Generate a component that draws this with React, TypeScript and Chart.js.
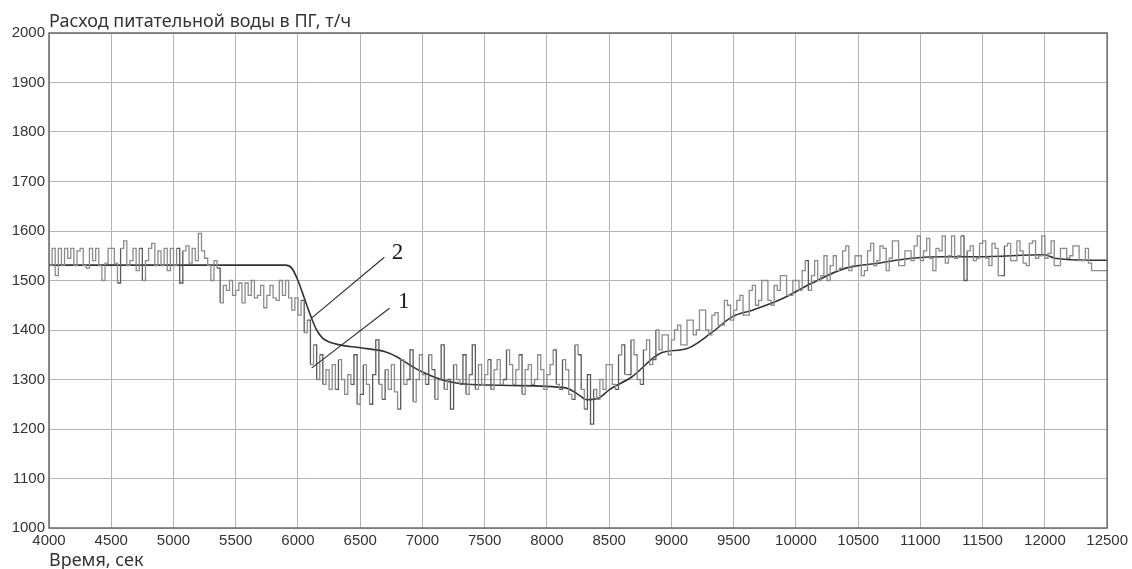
import React, { useEffect, useRef } from "react";
import { Chart, registerables } from "chart.js";

Chart.register(...registerables);

const TITLE_Y = "Расход питательной воды в ПГ, т/ч";
const TITLE_X = "Время, сек";

const X_MIN = 4000;
const X_MAX = 12500;
const X_STEP = 500;
const Y_MIN = 1000;
const Y_MAX = 2000;
const Y_STEP = 100;

// Curve 1: measured (noisy, stepped) feedwater flow, one value every 25 s from 4000 s
const MEASURED_START = 4000;
const MEASURED_DT = 25;
const measured: number[] = [
  1530, 1565, 1510, 1565, 1530, 1565, 1545, 1565, 1530, 1560, 1565, 1530, 1525, 1565, 1540, 1565, 1530, 1500, 1535, 1565,
  1565, 1535, 1495, 1565, 1580, 1530, 1540, 1565, 1520, 1565, 1500, 1540, 1565, 1575, 1530, 1560, 1530, 1565, 1520, 1565,
  1530, 1565, 1495, 1560, 1570, 1535, 1565, 1540, 1595, 1560, 1545, 1530, 1500, 1540, 1525, 1455, 1490, 1480, 1500, 1470,
  1480, 1495, 1455, 1495, 1470, 1500, 1465, 1470, 1490, 1445, 1470, 1490, 1465, 1460, 1500, 1470, 1500, 1465, 1440, 1465,
  1430, 1460, 1395, 1420, 1330, 1370, 1300, 1350, 1290, 1320, 1280, 1330, 1280, 1340, 1300, 1270, 1310, 1290, 1350, 1250,
  1270, 1330, 1290, 1250, 1310, 1380, 1290, 1260, 1320, 1280, 1330, 1275, 1240, 1340, 1290, 1300, 1360, 1255, 1300, 1350,
  1310, 1290, 1350, 1320, 1260, 1300, 1370, 1280, 1300, 1240, 1330, 1300, 1290, 1350, 1270, 1310, 1370, 1280, 1330, 1290,
  1310, 1340, 1280, 1320, 1340, 1290, 1300, 1360, 1330, 1290, 1320, 1350, 1270, 1320, 1330, 1290, 1300, 1350, 1320, 1280,
  1310, 1330, 1360, 1290, 1280, 1340, 1320, 1270, 1260, 1370, 1350, 1280, 1240, 1310, 1210, 1280, 1260, 1300, 1280, 1330,
  1330, 1290, 1280, 1350, 1370, 1310, 1310, 1380, 1350, 1300, 1290, 1360, 1380, 1330, 1340, 1400, 1360, 1390, 1390, 1350,
  1380, 1400, 1410, 1370, 1370, 1420, 1420, 1390, 1400, 1440, 1440, 1400, 1390, 1430, 1435, 1410, 1410, 1460, 1450, 1420,
  1440, 1460, 1470, 1430, 1430, 1480, 1490, 1450, 1460, 1500, 1500, 1460, 1450, 1490, 1480, 1510, 1510, 1470, 1470, 1500,
  1500, 1480, 1520, 1540, 1480, 1510, 1540, 1500, 1510, 1550, 1500, 1530, 1550, 1520, 1525, 1560, 1570, 1520, 1530, 1550,
  1550, 1510, 1520, 1560, 1575, 1530, 1540, 1570, 1565, 1520, 1545, 1580, 1580, 1530, 1530, 1560, 1560, 1540, 1570, 1590,
  1540, 1560, 1585, 1545, 1520, 1565, 1560, 1590, 1535, 1550, 1590, 1545, 1550, 1590, 1500, 1560, 1570, 1540, 1545, 1575,
  1580, 1545, 1530, 1575, 1565, 1510, 1510, 1570, 1575, 1540, 1540, 1580, 1560, 1535, 1530, 1575, 1580, 1545, 1550, 1590,
  1545, 1555, 1580, 1530, 1530, 1565, 1565, 1545, 1550, 1570, 1570, 1540, 1540, 1565, 1535, 1520, 1520, 1520, 1520, 1520,
  1520,
];

// Curve 2: smooth (model) flow
const smoothTimes: number[] = [
  4000, 5900, 5950, 6000, 6050, 6100, 6150, 6200, 6300, 6500, 6700, 6800, 6900, 7000,
  7160, 7300, 7700, 8150, 8250, 8320, 8420, 8500, 8680, 8920, 9120, 9320, 9490, 9650,
  9880, 10130, 10400, 10660, 10930, 11200, 11460, 12000, 12080, 12370, 12500,
];
const smoothValues: number[] = [
  1531, 1531, 1525, 1500, 1465, 1430, 1400, 1383, 1372, 1364, 1356, 1345, 1329, 1315,
  1299, 1292, 1288, 1283, 1270, 1259, 1263, 1279, 1305, 1354, 1362, 1394, 1427, 1440,
  1462, 1495, 1525, 1535, 1545, 1548, 1548, 1552, 1545, 1541, 1541,
];

// Annotation labels with leader lines (data coordinates)
const annLabels: string[] = ["2", "1"];
const annTextX: number[] = [6800, 6850];
const annTextY: number[] = [1556, 1457];
const annFromX: number[] = [6694, 6735];
const annFromY: number[] = [1547, 1444];
const annToX: number[] = [6109, 6109];
const annToY: number[] = [1424, 1323];

const UI_FONT = "'Noto Sans', 'Open Sans', sans-serif";
const TICK_FONT = "'Liberation Sans', Arial, sans-serif";

const overlayPlugin = {
  id: "overlay",
  afterDatasetsDraw(chart: any) {
    const { ctx, chartArea, scales } = chart;
    const { left, top, right, bottom } = chartArea;
    ctx.save();
    // frame
    ctx.strokeStyle = "#6a6a6a";
    ctx.lineWidth = 1.5;
    ctx.strokeRect(left, top, right - left, bottom - top);
    // texts
    ctx.fillStyle = "#333";
    ctx.font = `18px ${UI_FONT}`;
    ctx.textAlign = "left";
    ctx.textBaseline = "middle";
    ctx.fillText(TITLE_Y, left, top - 11);
    ctx.fillText(TITLE_X, left, bottom + 33);
    // annotations
    const sx = scales.x;
    const sy = scales.y;
    ctx.strokeStyle = "#333";
    ctx.lineWidth = 1.2;
    ctx.fillStyle = "#1a1a1a";
    ctx.font = "23px 'Liberation Serif', 'DejaVu Serif', serif";
    ctx.textAlign = "center";
    for (let i = 0; i < annLabels.length; i++) {
      ctx.beginPath();
      ctx.moveTo(sx.getPixelForValue(annFromX[i]), sy.getPixelForValue(annFromY[i]));
      ctx.lineTo(sx.getPixelForValue(annToX[i]), sy.getPixelForValue(annToY[i]));
      ctx.stroke();
      ctx.fillText(annLabels[i], sx.getPixelForValue(annTextX[i]), sy.getPixelForValue(annTextY[i]));
    }
    ctx.restore();
  },
};

export default function App() {
  const ref = useRef<HTMLCanvasElement | null>(null);
  useEffect(() => {
    if (!ref.current) return;
    const measuredData = measured.map((v, i) => ({ x: MEASURED_START + i * MEASURED_DT, y: v }));
    const smoothData = smoothTimes.map((t, i) => ({ x: t, y: smoothValues[i] }));
    const chart = new Chart(ref.current, {
      type: "line",
      data: {
        datasets: [
          {
            label: "1",
            data: measuredData,
            borderColor: "#8c8c8c",
            borderWidth: 1.3,
            pointRadius: 0,
            stepped: true,
            fill: false,
            segment: {
              borderColor: (c: any) =>
                Math.abs(c.p0.parsed.y - c.p1.parsed.y) >= 60 ? "#5a5a5a" : "#8c8c8c",
            },
          },
          {
            label: "2",
            data: smoothData,
            borderColor: "#333333",
            borderWidth: 1.6,
            pointRadius: 0,
            cubicInterpolationMode: "monotone",
            fill: false,
          },
        ],
      },
      options: {
        animation: false,
        responsive: true,
        maintainAspectRatio: false,
        layout: { padding: { left: 0, top: 33, right: 23, bottom: 0 } },
        plugins: { legend: { display: false }, tooltip: { enabled: false }, title: { display: false } },
        scales: {
          x: {
            type: "linear",
            min: X_MIN,
            max: X_MAX,
            border: { display: false },
            grid: { color: "#b4b4b4", lineWidth: 1, drawTicks: false },
            ticks: {
              stepSize: X_STEP,
              autoSkip: false,
              maxRotation: 0,
              padding: 4,
              color: "#333",
              font: { family: TICK_FONT, size: 15 },
              callback: (v: any) => String(v),
            },
            afterFit(scale: any) {
              scale.height = 41;
            },
          },
          y: {
            min: Y_MIN,
            max: Y_MAX,
            border: { display: false },
            grid: { color: "#b4b4b4", lineWidth: 1, drawTicks: false },
            ticks: {
              stepSize: Y_STEP,
              padding: 4,
              color: "#333",
              font: { family: TICK_FONT, size: 15 },
              callback: (v: any) => String(v),
            },
            afterFit(scale: any) {
              scale.width = 49;
            },
          },
        },
      },
      plugins: [overlayPlugin],
    });
    return () => chart.destroy();
  }, []);
  return (
    <div style={{ position: "fixed", left: 0, top: 0, width: 1132, height: 569, background: "#fff" }}>
      <canvas ref={ref} />
    </div>
  );
}
